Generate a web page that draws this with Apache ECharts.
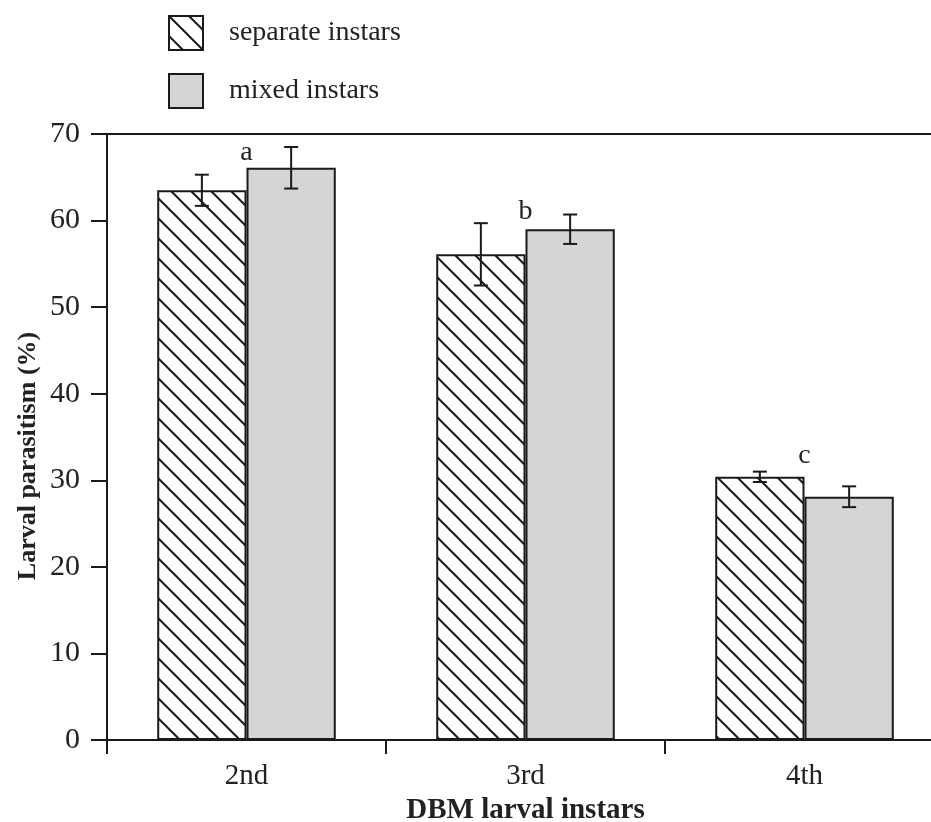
<!DOCTYPE html>
<html>
<head>
<meta charset="utf-8">
<script src="https://cdn.jsdelivr.net/npm/echarts@6/dist/echarts.min.js"></script>
<style>
  html, body { margin: 0; padding: 0; background: #fff; overflow: hidden; }
  #chart { width: 931px; height: 822px; }
</style>
</head>
<body>
<div id="chart"></div>
<script>
// Larval parasitism by DBM instar, separate vs mixed instar exposure
const categories = ['2nd', '3rd', '4th'];
const seriesNames = ['separate instars', 'mixed instars'];
const separateMean = [63.5, 56.1, 30.4];
const separateErr = [1.8, 3.6, 0.6];
const mixedMean = [66.1, 59.0, 28.1];
const mixedErr = [2.4, 1.7, 1.2];
const groupLetters = ['a', 'b', 'c'];
const letterHeights = [67.9, 61.0, 32.9];
const yTicks = [0, 10, 20, 30, 40, 50, 60, 70];

const SERIF = '"Liberation Serif", "Times New Roman", serif';
const BAR_FRACTION = 0.32;

// Diagonal hatch fill (top-left to bottom-right strokes)
function makeHatch() {
  const c = document.createElement('canvas');
  c.width = 20; c.height = 20;
  const g = c.getContext('2d');
  g.fillStyle = '#ffffff';
  g.fillRect(0, 0, 20, 20);
  g.strokeStyle = '#1a1a1a';
  g.lineWidth = 2;
  g.beginPath();
  g.moveTo(-5, -5); g.lineTo(25, 25);
  g.moveTo(-5, 15); g.lineTo(5, 25);
  g.moveTo(15, -5); g.lineTo(25, 5);
  g.stroke();
  return c;
}
const hatch = makeHatch();

function errorSeries(means, errs, side) {
  return {
    type: 'custom',
    silent: true,
    z: 5,
    data: means.map((m, i) => [i, m, errs[i]]),
    renderItem: function (params, api) {
      const idx = api.value(0);
      const m = api.value(1);
      const e = api.value(2);
      const band = api.size([1, 0])[0];
      const dx = side * band * BAR_FRACTION / 2;
      const hi = api.coord([idx, m + e]);
      const lo = api.coord([idx, m - e]);
      const x = hi[0] + dx;
      const cap = 7;
      const style = { stroke: '#1a1a1a', lineWidth: 2 };
      return {
        type: 'group',
        children: [
          { type: 'line', shape: { x1: x, y1: hi[1], x2: x, y2: lo[1] }, style: style },
          { type: 'line', shape: { x1: x - cap, y1: hi[1], x2: x + cap, y2: hi[1] }, style: style },
          { type: 'line', shape: { x1: x - cap, y1: lo[1], x2: x + cap, y2: lo[1] }, style: style }
        ]
      };
    }
  };
}

const chart = echarts.init(document.getElementById('chart'), null, { renderer: 'canvas' });

chart.setOption({
  animation: false,
  backgroundColor: '#ffffff',
  grid: {
    left: 107, right: -13, top: 134, bottom: 82,
    containLabel: false,
    outerBoundsMode: 'none'
  },
  legend: {
    orient: 'vertical',
    left: 168,
    top: 15,
    padding: 0,
    icon: 'rect',
    itemWidth: 34,
    itemHeight: 34,
    itemGap: 22,
    data: seriesNames,
    itemStyle: { borderColor: '#1a1a1a', borderWidth: 2 },
    textStyle: { fontFamily: SERIF, fontSize: 28, color: '#222', padding: [0, 0, 0, 21] }
  },
  xAxis: [{
    type: 'category',
    data: categories,
    position: 'bottom',
    axisLine: { lineStyle: { color: '#1a1a1a', width: 2 } },
    axisTick: { show: true, length: 14, inside: false, lineStyle: { color: '#1a1a1a', width: 2 } },
    axisLabel: { fontFamily: SERIF, fontSize: 29, color: '#222', margin: 22 },
    name: 'DBM larval instars',
    nameLocation: 'middle',
    nameGap: 48,
    nameTextStyle: { fontFamily: SERIF, fontSize: 29, fontWeight: 'bold', color: '#222' }
  }, {
    type: 'category',
    data: categories,
    position: 'top',
    axisLine: { lineStyle: { color: '#1a1a1a', width: 2 } },
    axisTick: { show: false },
    axisLabel: { show: false }
  }],
  yAxis: {
    type: 'value',
    min: yTicks[0],
    max: yTicks[yTicks.length - 1],
    interval: 10,
    axisLine: { show: true, lineStyle: { color: '#1a1a1a', width: 2 } },
    axisTick: { show: true, length: 16, lineStyle: { color: '#1a1a1a', width: 2 } },
    axisLabel: { fontFamily: SERIF, fontSize: 30, color: '#222', margin: 27 },
    splitLine: { show: false }
  },
  graphic: [{
    type: 'text',
    x: 28,
    y: 456,
    rotation: Math.PI / 2,
    style: {
      text: 'Larval parasitism (%)',
      font: 'bold 26px ' + SERIF,
      fill: '#222',
      align: 'center',
      verticalAlign: 'middle'
    }
  }],
  series: [{
    name: seriesNames[0],
    type: 'bar',
    data: separateMean,
    barWidth: (BAR_FRACTION * 100) + '%',
    barGap: '0%',
    itemStyle: {
      color: { image: hatch, repeat: 'repeat' },
      borderColor: '#1a1a1a',
      borderWidth: 2
    }
  }, {
    name: seriesNames[1],
    type: 'bar',
    data: mixedMean,
    barWidth: (BAR_FRACTION * 100) + '%',
    barGap: '0%',
    itemStyle: {
      color: '#d5d5d5',
      borderColor: '#1a1a1a',
      borderWidth: 2
    }
  },
  errorSeries(separateMean, separateErr, -1),
  errorSeries(mixedMean, mixedErr, 1),
  {
    type: 'custom',
    silent: true,
    z: 6,
    data: groupLetters.map((t, i) => [i, letterHeights[i]]),
    renderItem: function (params, api) {
      const p = api.coord([api.value(0), api.value(1)]);
      return {
        type: 'text',
        x: p[0],
        y: p[1],
        style: {
          text: groupLetters[params.dataIndex],
          font: '28px ' + SERIF,
          fill: '#222',
          align: 'center',
          verticalAlign: 'middle'
        }
      };
    }
  }]
});
</script>
</body>
</html>
